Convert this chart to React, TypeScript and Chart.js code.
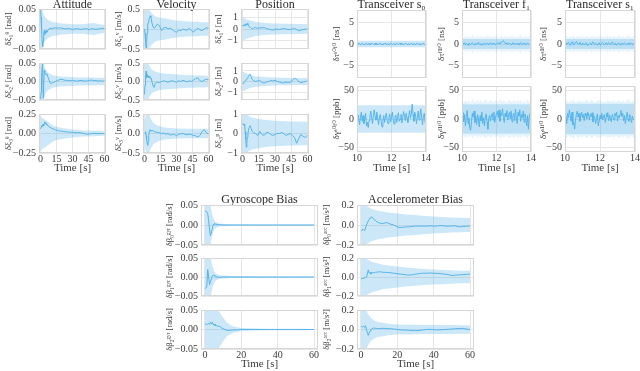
import React, { useEffect, useRef } from "react";
import { Chart, registerables } from "chart.js";

Chart.register(...registerables);

const FONT = '"Liberation Serif", "DejaVu Serif", "Times New Roman", serif';
const LINE_COLOR = "#56B4E9";
const BAND_RGB = "86,180,233";
const GRID_COLOR = "#e6e6e6";
const FRAME_COLOR = "#d6d6d6";
const TEXT_COLOR = "#3a3a3a";

// ================= time axes =================
const T60 = [0, 0.5, 1, 1.5, 2, 2.5, 3, 3.5, 4, 4.5, 5, 5.5, 6, 7, 8, 9, 10, 12, 14, 16, 18, 20, 22, 24, 26, 28, 30, 32, 34, 36, 38, 40, 42, 44, 46, 48, 50, 52, 54, 56, 58, 60];
const TS = [0, 1, 2, 3, 4, 5, 6, 8, 10, 12, 15, 20, 25, 30, 35, 40, 45, 50, 55, 60];
const TR_T = Array.from({ length: 81 }, (_, i) => 10 + i * 0.05);
const TR_BAND_T = [10, 14];
const FR_T = Array.from({ length: 41 }, (_, i) => 10 + i * 0.1);

// ================= tick values =================
const X_TICKS_TOP = [0, 15, 30, 45, 60];
const X_TICKS_BIAS = [0, 20, 40, 60];
const X_TICKS_TR = [10, 12, 14];
const Y_TICKS_ATT = [-0.05, 0, 0.05];
const Y_TICKS_ATT3 = [-0.25, 0, 0.25];
const Y_TICKS_VEL = [-0.5, 0, 0.5];
const Y_TICKS_POS = [-1, 0, 1];
const Y_TICKS_TAU = [-5, 0, 5];
const Y_TICKS_GAM = [-50, 0, 50];
const Y_TICKS_GYR = [-0.05, 0, 0.05];
const Y_TICKS_ACC = [-0.2, 0, 0.2];

// ================= titles / labels =================
const TITLES_TOP = ["Attitude", "Velocity", "Position"];
const TITLES_TR = ["Transceiver s\u2080", "Transceiver f\u2081", "Transceiver s\u2081"];
const TITLES_BIAS = ["Gyroscope Bias", "Accelerometer Bias"];
const YLAB_ATT = ["δξ₁ᶿ [rad]", "δξ₂ᶿ [rad]", "δξ₃ᶿ [rad]"];
const YLAB_VEL = ["δξ₁ᵛ [m/s]", "δξ₂ᵛ [m/s]", "δξ₃ᵛ [m/s]"];
const YLAB_POS = ["δξ₁ᵖ [m]", "δξ₂ᵖ [m]", "δξ₃ᵖ [m]"];
const YLAB_S0 = ["δτˢ⁰ᶠ⁰ [ns]", "δγˢ⁰ᶠ⁰ [ppb]"];
const YLAB_F1 = ["δτᶠ¹ᶠ⁰ [ns]", "δγᶠ¹ᶠ⁰ [ppb]"];
const YLAB_S1 = ["δτˢ¹ᶠ⁰ [ns]", "δγˢ¹ᶠ⁰ [ppb]"];
const YLAB_GYR = ["δβ₀ᵍʸʳ [rad/s]", "δβ₁ᵍʸʳ [rad/s]", "δβ₂ᵍʸʳ [rad/s]"];
const YLAB_ACC = ["δβ₀ᵃᶜᶜ [m/s²]", "δβ₁ᵃᶜᶜ [m/s²]", "δβ₂ᵃᶜᶜ [m/s²]"];
const X_TITLE = "Time [s]";

// ================= series (on T60) =================
const ATT1 = [0.06, 0.03, 0.0, -0.03, -0.045, -0.03, -0.012, -0.004, -0.014, -0.006, -0.01, -0.004, -0.008, -0.003, 0.0, 0.002, 0.001, 0.002, 0.003, 0.002, 0.003, 0.002, 0.001, 0.0, 0.002, 0.0, -0.001, 0.0, 0.001, 0.0, -0.001, 0.0, 0.001, 0.0, -0.002, 0.001, 0.0, -0.001, 0.0, 0.001, 0.002, 0.001];
const ATT2 = [-0.06, -0.03, 0.01, 0.04, 0.05, -0.045, -0.01, 0.03, 0.025, 0.02, 0.022, 0.018, 0.02, 0.012, 0.004, -0.004, -0.005, -0.003, 0.0, 0.003, 0.005, 0.006, 0.004, 0.003, 0.003, 0.002, 0.003, 0.002, 0.001, 0.002, 0.003, 0.002, 0.001, 0.002, 0.003, 0.004, 0.002, 0.003, 0.001, 0.002, 0.001, 0.002];
const ATT3 = [0.06, 0.08, 0.1, 0.09, 0.11, 0.12, 0.1, 0.13, 0.15, 0.13, 0.14, 0.12, 0.11, 0.1, 0.09, 0.08, 0.07, 0.06, 0.045, 0.04, 0.03, 0.03, 0.025, 0.02, 0.02, 0.015, 0.015, 0.01, 0.01, 0.012, 0.008, 0.005, -0.005, -0.01, -0.005, 0.0, 0.002, 0.0, -0.002, 0.0, 0.0, -0.003];
const VEL1 = [0.0, -0.1, -0.3, -0.5, -0.35, -0.1, 0.1, 0.16, 0.22, 0.28, 0.3, 0.33, 0.3, 0.15, 0.05, 0.02, 0.04, 0.12, 0.08, -0.04, 0.03, 0.04, 0.0, 0.02, -0.01, -0.06, -0.08, -0.03, -0.04, 0.0, -0.02, -0.03, 0.02, -0.04, -0.08, -0.02, 0.02, -0.02, -0.04, 0.0, 0.03, 0.02];
const VEL2 = [-0.35, -0.1, 0.15, 0.28, 0.1, 0.18, 0.12, 0.15, 0.1, 0.14, 0.12, 0.08, 0.1, 0.0, -0.12, -0.16, -0.05, -0.02, -0.03, 0.0, 0.02, 0.0, -0.02, 0.01, 0.02, 0.0, -0.02, 0.02, 0.0, 0.03, 0.01, -0.01, 0.02, 0.0, 0.04, 0.08, 0.1, 0.02, 0.0, 0.04, 0.06, 0.05];
const VEL3 = [0.0, 0.02, 0.05, -0.05, -0.15, -0.25, -0.3, -0.2, -0.05, 0.05, 0.1, 0.08, 0.06, 0.08, 0.07, 0.05, 0.04, 0.03, 0.02, 0.0, 0.01, -0.02, 0.0, -0.04, -0.03, -0.02, -0.06, -0.02, -0.01, 0.0, -0.02, -0.03, -0.02, -0.03, -0.05, -0.06, -0.09, -0.05, 0.05, 0.1, 0.02, -0.01];
const POS1 = [0.3, 0.3, 0.25, 0.35, 0.4, 0.3, 0.45, 0.35, 0.4, 0.5, 0.35, 0.3, 0.2, 0.15, 0.05, 0.0, 0.05, 0.15, 0.05, 0.1, 0.1, 0.12, 0.05, 0.0, -0.05, -0.1, -0.02, 0.0, -0.05, 0.0, 0.05, 0.0, -0.05, -0.05, 0.0, 0.05, -0.05, -0.15, -0.1, -0.05, -0.02, 0.0];
const POS2 = [-0.15, -0.2, -0.1, -0.05, 0.0, 0.05, 0.1, 0.2, 0.25, 0.3, 0.4, 0.5, 0.6, 0.7, 0.45, 0.2, 0.1, 0.0, 0.05, 0.1, -0.1, -0.15, -0.05, 0.0, 0.1, 0.05, 0.1, 0.0, -0.05, -0.1, -0.15, -0.05, -0.1, -0.05, 0.1, 0.3, 0.2, 0.0, -0.1, -0.05, 0.0, 0.05];
const POS3 = [0.5, 0.45, 0.5, 0.48, 0.4, 0.1, -0.3, -0.7, -0.5, -0.2, 0.0, 0.15, 0.3, 0.4, 0.25, 0.1, 0.05, 0.0, -0.1, 0.1, -0.05, -0.1, 0.05, 0.05, -0.05, -0.1, -0.05, 0.0, 0.0, 0.05, 0.0, -0.1, -0.05, 0.0, -0.1, -0.2, -0.5, -0.25, -0.05, -0.15, -0.2, -0.1];
const GYR0 = [0.034, 0.035, 0.033, 0.028, 0.012, -0.012, -0.027, -0.02, -0.008, 0.0, 0.003, 0.002, 0.002, 0.001, 0.001, 0.0005, 0.0, 0.0, 0.0, 0.0, 0.0, 0.0, 0.0, 0.0, 0.0, 0.0, 0.0, 0.0, 0.0, 0.0, 0.0, 0.0, 0.0, 0.0, 0.0, 0.0, 0.0, 0.0, 0.0, 0.0, 0.0, 0.0];
const GYR1 = [-0.03, -0.029, -0.025, 0.02, 0.0, -0.02, -0.012, -0.005, 0.002, 0.005, 0.004, 0.003, 0.001, 0.0, -0.001, 0.0, 0.0, 0.0, 0.0, 0.0, 0.0, 0.0, 0.0, 0.0, 0.0, 0.0, 0.0, 0.0, 0.0, 0.0, 0.0, 0.0, 0.0, 0.0, 0.0, 0.0, 0.0, 0.0, 0.0, 0.0, 0.0, 0.0];
const GYR2 = [0.015, 0.014, 0.012, 0.014, 0.016, 0.013, 0.018, 0.015, 0.019, 0.012, 0.014, 0.01, 0.011, 0.008, 0.009, 0.004, 0.002, -0.002, -0.002, -0.001, -0.001, 0.0, 0.0, 0.0, 0.0, 0.0, 0.0, 0.0, 0.0, 0.0, 0.0, 0.0, 0.0, 0.0, 0.0, 0.0, 0.0, 0.0, 0.0, 0.0, 0.0, 0.0];
const ACC0 = [-0.06, -0.055, -0.04, -0.05, -0.055, -0.03, 0.0, 0.02, 0.04, 0.055, 0.07, 0.078, 0.08, 0.06, 0.04, 0.03, 0.02, 0.015, 0.025, 0.01, 0.0, -0.02, -0.025, -0.02, -0.018, -0.015, -0.01, -0.012, -0.01, -0.012, -0.008, -0.012, -0.01, -0.005, -0.01, -0.012, -0.01, -0.008, -0.02, -0.015, -0.012, -0.01];
const ACC1 = [-0.02, -0.018, -0.015, -0.012, -0.01, -0.005, 0.0, 0.03, 0.075, 0.04, 0.05, 0.03, 0.045, 0.045, 0.05, 0.052, 0.055, 0.05, 0.048, 0.045, 0.04, 0.035, 0.03, 0.025, 0.02, 0.022, 0.03, 0.035, 0.04, 0.04, 0.042, 0.04, 0.038, 0.035, 0.03, 0.025, 0.015, 0.02, 0.022, 0.025, 0.028, 0.03];
const ACC2 = [0.027, 0.03, 0.028, 0.03, 0.02, 0.04, 0.0, -0.03, -0.06, -0.035, -0.015, 0.0, 0.01, 0.015, 0.012, 0.01, 0.01, 0.012, 0.01, 0.008, 0.005, 0.0, -0.005, -0.005, -0.008, -0.01, -0.012, -0.01, -0.005, 0.0, 0.002, -0.002, -0.005, -0.003, 0.0, 0.002, 0.005, 0.008, 0.01, 0.012, 0.005, 0.0];

// ================= band half-widths (on TS) =================
const SIG_ATT1 = [0.08, 0.06, 0.045, 0.037, 0.032, 0.028, 0.025, 0.021, 0.019, 0.017, 0.016, 0.014, 0.013, 0.012, 0.012, 0.012, 0.014, 0.015, 0.012, 0.01];
const SIG_ATT2 = [0.09, 0.07, 0.055, 0.045, 0.038, 0.032, 0.027, 0.022, 0.019, 0.016, 0.015, 0.013, 0.013, 0.012, 0.011, 0.011, 0.011, 0.011, 0.01, 0.01];
const SIG_ATT3 = [0.21, 0.21, 0.2, 0.19, 0.18, 0.17, 0.16, 0.14, 0.12, 0.1, 0.085, 0.07, 0.06, 0.052, 0.046, 0.04, 0.037, 0.034, 0.032, 0.03];
const SIG_VEL1 = [0.8, 0.7, 0.6, 0.55, 0.5, 0.46, 0.42, 0.36, 0.32, 0.3, 0.28, 0.26, 0.23, 0.21, 0.2, 0.19, 0.18, 0.18, 0.17, 0.17];
const SIG_VEL2 = [0.8, 0.7, 0.6, 0.52, 0.46, 0.4, 0.36, 0.3, 0.27, 0.25, 0.23, 0.21, 0.2, 0.19, 0.18, 0.17, 0.17, 0.16, 0.16, 0.15];
const SIG_VEL3 = [0.3, 0.45, 0.55, 0.6, 0.55, 0.45, 0.38, 0.28, 0.24, 0.21, 0.18, 0.15, 0.14, 0.13, 0.13, 0.12, 0.12, 0.12, 0.12, 0.12];
const SIG_POS1 = [1.0, 1.0, 0.95, 0.9, 0.85, 0.8, 0.78, 0.72, 0.68, 0.62, 0.58, 0.52, 0.5, 0.48, 0.46, 0.45, 0.45, 0.44, 0.43, 0.42];
const SIG_POS2 = [0.9, 0.9, 0.85, 0.8, 0.75, 0.7, 0.65, 0.6, 0.55, 0.5, 0.47, 0.42, 0.4, 0.38, 0.36, 0.35, 0.34, 0.33, 0.33, 0.32];
const SIG_POS3 = [1.2, 1.2, 1.1, 1.05, 1.0, 0.95, 0.9, 0.85, 0.8, 0.78, 0.75, 0.7, 0.68, 0.66, 0.64, 0.63, 0.62, 0.61, 0.6, 0.6];
const SIG_GYR0 = [0.1, 0.09, 0.07, 0.05, 0.025, 0.012, 0.007, 0.004, 0.003, 0.0025, 0.002, 0.0018, 0.0016, 0.0015, 0.0015, 0.0014, 0.0014, 0.0013, 0.0013, 0.0012];
const SIG_GYR1 = [0.1, 0.09, 0.075, 0.055, 0.03, 0.016, 0.009, 0.005, 0.004, 0.003, 0.0025, 0.002, 0.0018, 0.0016, 0.0015, 0.0014, 0.0014, 0.0013, 0.0013, 0.0012];
const SIG_GYR2 = [0.09, 0.085, 0.08, 0.075, 0.07, 0.065, 0.06, 0.045, 0.03, 0.018, 0.009, 0.004, 0.003, 0.0025, 0.002, 0.002, 0.002, 0.0018, 0.0018, 0.0016];
const SIG_ACC0 = [0.22, 0.21, 0.2, 0.19, 0.18, 0.17, 0.16, 0.15, 0.14, 0.135, 0.125, 0.115, 0.105, 0.1, 0.09, 0.085, 0.08, 0.075, 0.072, 0.07];
const SIG_ACC1 = [0.22, 0.21, 0.2, 0.19, 0.18, 0.17, 0.16, 0.15, 0.14, 0.13, 0.12, 0.11, 0.1, 0.092, 0.085, 0.08, 0.075, 0.07, 0.067, 0.065];
const SIG_ACC2 = [0.25, 0.24, 0.22, 0.19, 0.16, 0.13, 0.11, 0.085, 0.075, 0.068, 0.06, 0.052, 0.05, 0.048, 0.047, 0.046, 0.045, 0.045, 0.044, 0.044];

// ================= transceiver series (on TR_T) =================
const TAU_S0 = [
  0.1, -0.1, 0.2, 0.0, -0.2, 0.1, 0.2, -0.1, 0.0, -0.2,
  0.1, 0.2, -0.1, 0.0, 0.1, -0.2, 0.0, 0.2, 0.1, -0.1,
  0.0, 0.2, -0.2, 0.1, 0.0, -0.1, 0.1, 0.2, -0.1, 0.0,
  -0.2, 0.1, 0.0, 0.2, -0.1, 0.1, 0.0, -0.2, 0.1, 0.2,
  0.0, -0.1, 0.1, 0.0, -0.2, 0.1, 0.2, 0.0, -0.1, 0.1,
  0.2, -0.1, 0.0, 0.1, -0.2, 0.0, 0.2, 0.1, -0.1, 0.0,
  0.1, -0.2, 0.1, 0.2, 0.0, -0.1, 0.1, 0.0, -0.2, 0.1,
  0.2, 0.0, -0.1, 0.1, -0.2, 0.0, 0.1, 0.2, -0.1, 0.0,
  0.1,
];
const GAM_S0 = [
  -5, 8, 3, -10, 2, 12, -4, 6, -8, 0,
  10, -12, -6, -15, -3, 5, 14, 2, -8, 6,
  16, 4, -2, 12, 0, -10, 3, 8, -4, -14,
  -2, 6, -6, 4, 10, -3, -8, 2, 9, -5,
  3, 12, -2, -9, 4, 7, -6, 2, 11, -4,
  0, 8, -7, 3, 13, 5, -3, 10, 2, -6,
  6, 15, 1, 9, 26, 8, -4, 12, 5, -8,
  3, 14, -2, 6, 18, 2, -10, 4, 10, -6,
  0,
];
const TAU_F1 = [
  0.2, -0.1, 0.0, 0.3, -0.2, 0.1, 0.0, -0.3, 0.2, 0.1,
  -0.1, 0.0, 0.3, 0.1, -0.2, 0.0, 0.2, -0.1, 0.1, 0.4,
  0.0, -0.2, 0.1, 0.0, -0.3, 0.1, 0.2, 0.0, -0.1, 0.2,
  0.1, -0.2, 0.0, 0.3, 0.1, -0.1, 0.2, 0.0, 0.1, -0.2,
  0.0, 0.2, 0.1, 0.3, 0.0, 0.2, 0.5, 0.6, 0.8, 0.4,
  0.2, 0.0, 0.3, -0.1, 0.1, 0.2, 0.0, -0.2, 0.1, 0.3,
  0.0, 0.1, -0.1, 0.2, 0.0, 0.1, -0.2, 0.1, 0.3, 0.0,
  -0.1, 0.2, 0.1, 0.0, -0.2, 0.1, 0.2, 0.0, -0.1, 0.1,
  0.0,
];
const GAM_F1 = [
  0, 12, -5, 8, -12, 4, 15, -8, 2, -16,
  -20, -4, 10, 3, 14, -6, 5, -10, 8, 0,
  -14, 6, -3, 12, -8, 2, -12, 4, 9, -5,
  -18, 0, 7, -4, 5, 10, -2, 12, -6, 4,
  9, 14, 2, 16, -4, 11, 6, 18, 3, -6,
  10, 4, 15, -2, 8, 12, 0, 14, -5, 6,
  10, -3, 17, 2, -8, 12, 5, 16, -4, 8,
  2, 14, -6, 9, 3, -12, 6, -18, 4, 10,
  -2,
];
const TAU_S1 = [
  0.0, 0.3, -0.1, 0.2, 0.4, 0.0, -0.3, 0.1, 0.5, 0.2,
  -0.2, 0.0, 0.3, 0.6, 0.2, -0.1, 0.1, 0.4, 0.0, -0.3,
  0.2, 0.1, -0.2, 0.0, 0.3, -0.1, -0.4, 0.0, 0.2, 0.1,
  -0.2, 0.3, 0.5, 0.1, -0.1, 0.2, 0.0, -0.3, 0.1, 0.3,
  -0.2, 0.0, 0.2, 0.4, 0.1, -0.2, 0.0, 0.3, -0.1, 0.1,
  0.3, 0.0, -0.2, 0.2, 0.5, 0.1, -0.1, 0.2, 0.0, -0.3,
  0.1, 0.3, 0.0, -0.2, 0.1, 0.2, -0.1, 0.0, 0.3, 0.1,
  -0.2, 0.0, 0.2, -0.1, 0.1, 0.3, 0.0, -0.2, 0.1, 0.0,
  0.1,
];
const GAM_S1 = [
  -5, 4, -8, 10, 2, 16, 6, -4, 12, -10,
  -6, -18, -2, 8, 14, 3, 10, -4, 6, 12,
  2, 8, -3, 10, 5, 0, 12, 7, -2, 9,
  4, 11, -5, 6, 2, -8, 3, 9, -12, -4,
  6, 0, 10, -2, 5, 8, -6, 2, 11, 4,
  -3, 7, 0, -5, 8, 3, -2, 10, 5, 12,
  -4, 6, 2, 9, 15, 4, 10, -3, 6, -8,
  2, 12, 0, -4, 8, 3, -6, 5, 1, -2,
  4,
];

// transceiver band half-widths
const SIG_TAU_S0 = [0.75, 0.75];
const SIG_GAM_S0 = [24, 24];
const SIG_TAU_F1 = [1.2, 1.2];
const SIG_GAM_F1 = [26, 26];
const SIG_TAU_S1 = [1.2, 1.2];
const SIG_GAM_S1 = [27, 27];
const FR_TAU_F1 = [1.8, 1.5, 2.0, 1.6, 1.9, 1.4, 2.1, 1.7, 1.5, 1.9, 1.6, 2.0, 1.5, 1.8, 1.7, 2.1, 1.5, 1.9, 1.6, 1.8, 2.0, 1.5, 1.7, 1.9, 1.6, 2.1, 1.5, 1.8, 1.7, 2.0, 1.6, 1.9, 1.5, 1.8, 2.1, 1.6, 1.7, 1.9, 1.5, 2.0, 1.7];
const FR_GAM_F1 = [32, 29, 34, 30, 33, 28, 35, 31, 29, 34, 30, 33, 29, 32, 35, 30, 31, 34, 28, 33, 32, 29, 35, 30, 33, 31, 28, 34, 32, 30, 35, 29, 33, 31, 34, 28, 32, 30, 35, 29, 33];
const FR_TAU_S1 = [1.6, 2.0, 1.5, 1.9, 1.7, 2.1, 1.5, 1.8, 2.0, 1.6, 1.9, 1.5, 2.1, 1.7, 1.6, 2.0, 1.8, 1.5, 1.9, 1.7, 2.1, 1.6, 1.8, 1.5, 2.0, 1.7, 1.9, 1.6, 2.1, 1.5, 1.8, 2.0, 1.6, 1.9, 1.5, 1.7, 2.1, 1.8, 1.6, 1.9, 1.7];
const FR_GAM_S1 = [30, 34, 29, 33, 31, 35, 28, 32, 34, 30, 33, 29, 35, 31, 30, 34, 32, 28, 33, 31, 35, 30, 32, 29, 34, 31, 33, 30, 35, 28, 32, 34, 30, 33, 29, 31, 35, 32, 30, 33, 31];

// ================= layout =================
type Band = { t: number[]; s: number[]; a: number };
type Col = { x0: number; x1: number; yTitleX: number };
type Panel = {
  key: string;
  col: Col;
  y0: number;
  y1: number;
  yTitle: string;
  yTitleSize: number;
  title?: string;
  titleY?: number;
  xLab: boolean;
  xTitleY: number;
  xMin: number;
  xMax: number;
  xTicks: number[];
  xDec: number;
  yMin: number;
  yMax: number;
  yTicks: number[];
  yDec: number;
  t: number[];
  v: number[];
  bands: Band[];
};

const COL_ATT: Col = { x0: 39, x1: 106, yTitleX: 8 };
const COL_VEL: Col = { x0: 143, x1: 210, yTitleX: 118 };
const COL_POS: Col = { x0: 241, x1: 309, yTitleX: 218 };
const COL_S0: Col = { x0: 357, x1: 426, yTitleX: 336 };
const COL_F1: Col = { x0: 462, x1: 531, yTitleX: 441.5 };
const COL_S1: Col = { x0: 565, x1: 635, yTitleX: 543 };
const COL_GYR: Col = { x0: 201, x1: 318, yTitleX: 170 };
const COL_ACC: Col = { x0: 357, x1: 474, yTitleX: 327 };
const ROWS_TL = [[9, 51], [61, 102], [112, 153]];
const ROWS_TR = [[10, 80], [84, 152]];
const ROWS_BI = [[205, 247], [256, 298], [308, 349]];

const CORE_A = 0.3;
const FR_A = 0.14;

function topPanel(key: string, col: Col, row: number, title: string, yTitle: string, yLim: number, yTicks: number[], yDec: number, v: number[], sig: number[]): Panel {
  return {
    key, col, y0: ROWS_TL[row][0], y1: ROWS_TL[row][1], yTitle, yTitleSize: 9,
    title: row === 0 ? title : undefined, titleY: 4.5,
    xLab: row === 2, xTitleY: 168,
    xMin: -1.4, xMax: 61.4, xTicks: X_TICKS_TOP, xDec: 0,
    yMin: -yLim, yMax: yLim, yTicks, yDec,
    t: T60, v, bands: [{ t: TS, s: sig, a: CORE_A }],
  };
}
function trPanel(key: string, col: Col, row: number, title: string, yTitle: string, v: number[], core: number[], fringe?: number[]): Panel {
  const bands: Band[] = [];
  if (fringe) bands.push({ t: FR_T, s: fringe, a: FR_A });
  bands.push({ t: TR_BAND_T, s: core, a: CORE_A });
  return {
    key, col, y0: ROWS_TR[row][0], y1: ROWS_TR[row][1], yTitle, yTitleSize: 9,
    title: row === 0 ? title : undefined, titleY: 4.5,
    xLab: row === 1, xTitleY: 168,
    xMin: 10, xMax: 14, xTicks: X_TICKS_TR, xDec: 0,
    yMin: row === 0 ? -8 : -58, yMax: row === 0 ? 8 : 58,
    yTicks: row === 0 ? Y_TICKS_TAU : Y_TICKS_GAM, yDec: 0,
    t: TR_T, v, bands,
  };
}
function biasPanel(key: string, col: Col, row: number, title: string, yTitle: string, yLim: number, yTicks: number[], yDec: number, v: number[], sig: number[]): Panel {
  return {
    key, col, y0: ROWS_BI[row][0], y1: ROWS_BI[row][1], yTitle, yTitleSize: 8.5,
    title: row === 0 ? title : undefined, titleY: 200,
    xLab: row === 2, xTitleY: 364,
    xMin: -2.2, xMax: 62.2, xTicks: X_TICKS_BIAS, xDec: 0,
    yMin: -yLim, yMax: yLim, yTicks, yDec,
    t: T60, v, bands: [{ t: TS, s: sig, a: CORE_A }],
  };
}

const PANELS: Panel[] = [
  topPanel("a1", COL_ATT, 0, TITLES_TOP[0], YLAB_ATT[0], 0.05, Y_TICKS_ATT, 2, ATT1, SIG_ATT1),
  topPanel("a2", COL_ATT, 1, TITLES_TOP[0], YLAB_ATT[1], 0.05, Y_TICKS_ATT, 2, ATT2, SIG_ATT2),
  topPanel("a3", COL_ATT, 2, TITLES_TOP[0], YLAB_ATT[2], 0.25, Y_TICKS_ATT3, 2, ATT3, SIG_ATT3),
  topPanel("v1", COL_VEL, 0, TITLES_TOP[1], YLAB_VEL[0], 0.5, Y_TICKS_VEL, 1, VEL1, SIG_VEL1),
  topPanel("v2", COL_VEL, 1, TITLES_TOP[1], YLAB_VEL[1], 0.5, Y_TICKS_VEL, 1, VEL2, SIG_VEL2),
  topPanel("v3", COL_VEL, 2, TITLES_TOP[1], YLAB_VEL[2], 0.5, Y_TICKS_VEL, 1, VEL3, SIG_VEL3),
  topPanel("p1", COL_POS, 0, TITLES_TOP[2], YLAB_POS[0], 1.75, Y_TICKS_POS, 0, POS1, SIG_POS1),
  topPanel("p2", COL_POS, 1, TITLES_TOP[2], YLAB_POS[1], 1.75, Y_TICKS_POS, 0, POS2, SIG_POS2),
  topPanel("p3", COL_POS, 2, TITLES_TOP[2], YLAB_POS[2], 1.0, Y_TICKS_POS, 0, POS3, SIG_POS3),
  trPanel("s0a", COL_S0, 0, TITLES_TR[0], YLAB_S0[0], TAU_S0, SIG_TAU_S0),
  trPanel("s0b", COL_S0, 1, TITLES_TR[0], YLAB_S0[1], GAM_S0, SIG_GAM_S0),
  trPanel("f1a", COL_F1, 0, TITLES_TR[1], YLAB_F1[0], TAU_F1, SIG_TAU_F1, FR_TAU_F1),
  trPanel("f1b", COL_F1, 1, TITLES_TR[1], YLAB_F1[1], GAM_F1, SIG_GAM_F1, FR_GAM_F1),
  trPanel("s1a", COL_S1, 0, TITLES_TR[2], YLAB_S1[0], TAU_S1, SIG_TAU_S1, FR_TAU_S1),
  trPanel("s1b", COL_S1, 1, TITLES_TR[2], YLAB_S1[1], GAM_S1, SIG_GAM_S1, FR_GAM_S1),
  biasPanel("g0", COL_GYR, 0, TITLES_BIAS[0], YLAB_GYR[0], 0.05, Y_TICKS_GYR, 2, GYR0, SIG_GYR0),
  biasPanel("g1", COL_GYR, 1, TITLES_BIAS[0], YLAB_GYR[1], 0.05, Y_TICKS_GYR, 2, GYR1, SIG_GYR1),
  biasPanel("g2", COL_GYR, 2, TITLES_BIAS[0], YLAB_GYR[2], 0.05, Y_TICKS_GYR, 2, GYR2, SIG_GYR2),
  biasPanel("c0", COL_ACC, 0, TITLES_BIAS[1], YLAB_ACC[0], 0.2, Y_TICKS_ACC, 1, ACC0, SIG_ACC0),
  biasPanel("c1", COL_ACC, 1, TITLES_BIAS[1], YLAB_ACC[1], 0.2, Y_TICKS_ACC, 1, ACC1, SIG_ACC1),
  biasPanel("c2", COL_ACC, 2, TITLES_BIAS[1], YLAB_ACC[2], 0.2, Y_TICKS_ACC, 1, ACC2, SIG_ACC2),
];

const XT_SIZE = 11;
const XT_LH = XT_SIZE * 1.2;
const TICK_SIZE = 10;
const TITLE_SIZE = 12;

function fmt(v: number, dec: number) {
  const s = Math.abs(v).toFixed(dec);
  return v < 0 ? "\u2212" + s : s;
}

function geometry(p: Panel) {
  const ytLH = p.yTitleSize * 1.2;
  const left = Math.round(p.col.yTitleX - ytLH / 2);
  const L = p.col.x0 - left;
  const titleH = p.title ? 2 * (p.y0 - (p.titleY as number)) : 0;
  const top = Math.floor(p.y0 - titleH - 7);
  const padTop = p.y0 - titleH - top;
  const B = p.xLab ? p.xTitleY + XT_LH / 2 - p.y1 : 0;
  const minBottom = p.xLab ? 1 : 7;
  const H = Math.ceil(p.y1 - top + B + minBottom);
  const padBottom = H - (p.y1 - top) - B;
  const W = Math.ceil(p.col.x1 - left + 8);
  const padRight = W - (p.col.x1 - left);
  return { left, top, W, H, L, B, titleH, padTop, padBottom, padRight };
}

const framePlugin = {
  id: "frame",
  afterDatasetsDraw(chart: any) {
    const { ctx, chartArea: a } = chart;
    ctx.save();
    ctx.strokeStyle = FRAME_COLOR;
    ctx.lineWidth = 1;
    ctx.strokeRect(a.left + 0.5, a.top + 0.5, a.right - a.left - 1, a.bottom - a.top - 1);
    ctx.restore();
  },
};

function Plot({ p }: { p: Panel }) {
  const ref = useRef<HTMLCanvasElement | null>(null);
  const g = geometry(p);
  useEffect(() => {
    const canvas = ref.current;
    if (!canvas) return;
    const datasets: any[] = [
      {
        data: p.t.map((t, i) => ({ x: t, y: p.v[i] })),
        borderColor: LINE_COLOR,
        borderWidth: 1,
        pointRadius: 0,
        fill: false,
        tension: 0,
        order: 0,
      },
    ];
    p.bands.forEach((b) => {
      datasets.push({
        data: b.t.map((t, i) => ({ x: t, y: b.s[i] })),
        borderColor: "rgba(0,0,0,0)",
        borderWidth: 0,
        pointRadius: 0,
        fill: false,
        order: 1,
      });
      datasets.push({
        data: b.t.map((t, i) => ({ x: t, y: -b.s[i] })),
        borderColor: "rgba(0,0,0,0)",
        borderWidth: 0,
        pointRadius: 0,
        fill: "-1",
        backgroundColor: `rgba(${BAND_RGB},${b.a})`,
        order: 1,
      });
    });
    const chart = new Chart(canvas, {
      type: "line",
      data: { datasets },
      options: {
        animation: false,
        responsive: false,
        maintainAspectRatio: false,
        devicePixelRatio: 1,
        events: [],
        layout: { padding: { left: 0, right: g.padRight, top: g.padTop, bottom: g.padBottom } },
        plugins: {
          legend: { display: false },
          tooltip: { enabled: false },
          title: {
            display: !!p.title,
            text: p.title || "",
            fullSize: false,
            color: "#2a2a2a",
            font: { family: FONT, size: TITLE_SIZE, weight: "normal", lineHeight: `${g.titleH}px` },
            padding: 0,
          },
        },
        scales: {
          x: {
            type: "linear",
            min: p.xMin,
            max: p.xMax,
            afterBuildTicks: (s: any) => {
              s.ticks = p.xTicks.map((v) => ({ value: v }));
            },
            afterFit: (s: any) => {
              s.height = g.B;
            },
            ticks: {
              display: p.xLab,
              autoSkip: false,
              maxRotation: 0,
              padding: 0,
              color: TEXT_COLOR,
              font: { family: FONT, size: TICK_SIZE },
              callback: (v: any) => fmt(Number(v), p.xDec),
            },
            grid: { color: GRID_COLOR, lineWidth: 1, drawTicks: false },
            border: { display: false },
            title: {
              display: p.xLab,
              text: X_TITLE,
              color: TEXT_COLOR,
              font: { family: FONT, size: XT_SIZE, lineHeight: 1.2 },
              padding: 0,
            },
          },
          y: {
            type: "linear",
            min: p.yMin,
            max: p.yMax,
            afterBuildTicks: (s: any) => {
              s.ticks = p.yTicks.map((v) => ({ value: v }));
            },
            afterFit: (s: any) => {
              s.width = g.L;
            },
            ticks: {
              autoSkip: false,
              padding: 3,
              color: TEXT_COLOR,
              font: { family: FONT, size: TICK_SIZE },
              callback: (v: any) => fmt(Number(v), p.yDec),
            },
            grid: { color: GRID_COLOR, lineWidth: 1, drawTicks: false },
            border: { display: false },
            title: {
              display: true,
              text: p.yTitle,
              color: TEXT_COLOR,
              font: { family: FONT, size: p.yTitleSize, lineHeight: 1.2 },
              padding: 0,
            },
          },
        },
      } as any,
      plugins: [framePlugin],
    });
    return () => chart.destroy();
  }, []);
  return (
    <canvas
      ref={ref}
      width={g.W}
      height={g.H}
      style={{ position: "absolute", left: g.left, top: g.top, width: g.W, height: g.H }}
    />
  );
}

export default function App() {
  return (
    <div
      style={{
        position: "fixed",
        left: 0,
        top: 0,
        width: 640,
        height: 371,
        background: "#ffffff",
        overflow: "hidden",
      }}
    >
      {PANELS.map((p) => (
        <Plot key={p.key} p={p} />
      ))}
    </div>
  );
}
